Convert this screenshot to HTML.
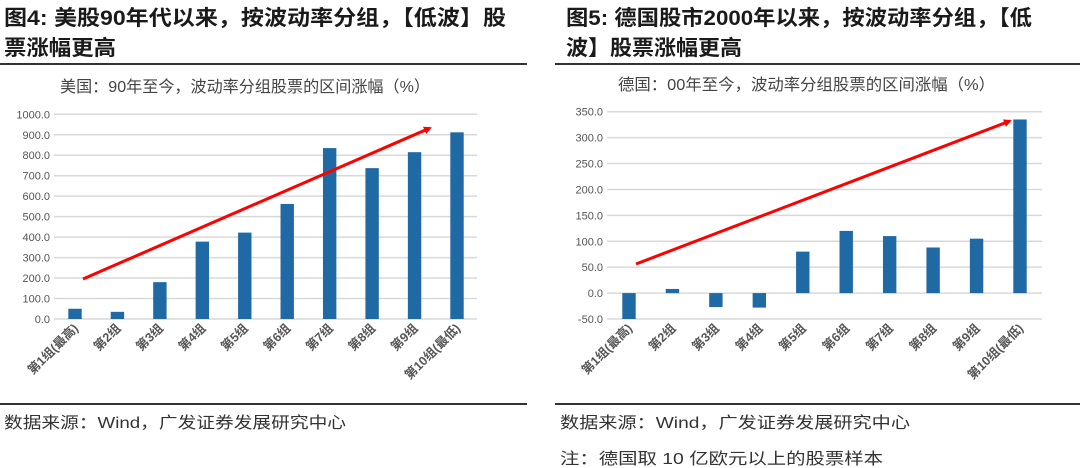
<!DOCTYPE html>
<html><head><meta charset="utf-8">
<style>
body{margin:0;width:1080px;height:468px;background:#fff;overflow:hidden;font-family:"Liberation Sans","Noto Sans CJK SC",sans-serif;}
svg{display:block}
</style></head>
<body>
<svg id="root" width="1080" height="468" viewBox="0 0 1080 468">
<defs>
<marker id="ah" markerWidth="8" markerHeight="8" refX="6" refY="4" orient="auto" markerUnits="userSpaceOnUse"><path d="M0,0 L8,4 L0,8 z" fill="#ff0000"/></marker>
</defs>
<g font-family="'Liberation Sans','Noto Sans CJK SC',sans-serif" font-weight="bold" font-size="21" fill="#1a1a1a">
<text x="4" y="25" textLength="502" lengthAdjust="spacingAndGlyphs">图4: 美股90年代以来，按波动率分组，【低波】股</text>
<text x="4" y="55" textLength="112" lengthAdjust="spacingAndGlyphs">票涨幅更高</text>
<text x="566" y="25" textLength="466" lengthAdjust="spacingAndGlyphs">图5: 德国股市2000年以来，按波动率分组，【低</text>
<text x="566" y="55" textLength="176" lengthAdjust="spacingAndGlyphs">波】股票涨幅更高</text>
</g>
<rect x="0" y="63" width="527" height="2" fill="#333"/>
<rect x="555" y="63" width="525" height="2" fill="#333"/>
<rect x="0" y="403" width="527" height="2" fill="#333"/>
<rect x="555" y="403" width="525" height="2" fill="#333"/>
<g font-family="'Liberation Sans','Noto Sans CJK SC',sans-serif" font-size="16" fill="#333">
<text x="4" y="428" textLength="342" lengthAdjust="spacingAndGlyphs">数据来源：Wind，广发证券发展研究中心</text>
<text x="560" y="428" textLength="350" lengthAdjust="spacingAndGlyphs">数据来源：Wind，广发证券发展研究中心</text>
<text x="560" y="464" textLength="323" lengthAdjust="spacingAndGlyphs">注：德国取 10 亿欧元以上的股票样本</text>
</g>
<g id="c1"></g>
<g id="c2"></g>
</svg>
<script>
const cats = ["第1组(最高)","第2组","第3组","第4组","第5组","第6组","第7组","第8组","第9组","第10组(最低)"];
const usValues = [50, 35, 180, 378, 422, 562, 835, 737, 815, 912];
const usTicks = [0,100,200,300,400,500,600,700,800,900,1000];
const deValues = [-50, 8, -27, -28, 80, 120, 110, 88, 105, 335];
const deTicks = [-50,0,50,100,150,200,250,300,350];
const NS = "http://www.w3.org/2000/svg";
function mk(tag, attrs, parent){const e=document.createElementNS(NS,tag);for(const k in attrs)e.setAttribute(k,attrs[k]);parent.appendChild(e);return e;}
function drawChart(g, cfg){
  const {values, ticks, x0, x1, yTop, yBot, vMin, vMax, first, last, title, titleX, arrow} = cfg;
  const y = v => yBot - (v - vMin) / (vMax - vMin) * (yBot - yTop);
  const step = (last - first) / (values.length - 1);
  const xc = i => first + i * step;
  const t = mk("text",{x:titleX,y:cfg.titleY,"font-size":"16","fill":"#444","textLength":cfg.titleLen,"lengthAdjust":"spacingAndGlyphs","font-family":"'Liberation Sans','Noto Sans CJK SC',sans-serif"},g);
  
  
  t.textContent = title;
  ticks.forEach(v=>{
    const l = mk("line",{x1:x0,x2:x1,y1:y(v),y2:y(v),stroke:"#d9d9d9","stroke-width":"1.5"},g);
    
    
    const tx = mk("text",{x:x0-4,y:y(v)+4,"text-anchor":"end","font-size":"11","fill":"#555"},g);
    
    
    tx.textContent = v.toFixed(1);
  });
  values.forEach((v,i)=>{
    const top = Math.min(y(v), y(0)), h = Math.abs(y(v)-y(0));
    const r = mk("rect",{x:xc(i)-6.7,y:top,width:13.4,height:h,fill:"#1f6aa5"},g);
    
    
    const lx = xc(i)+4, ly = yBot+10;
    const lt = mk("text",{x:lx,y:ly,"text-anchor":"end","font-size":"12.5","font-weight":"bold","fill":"#555",transform:`rotate(-45 ${lx} ${ly})`,"font-family":"'Liberation Sans','Noto Sans CJK SC',sans-serif"},g);
    
    
    lt.textContent = cats[i];
  });
  const a = mk("line",{x1:arrow[0],y1:arrow[1],x2:arrow[2],y2:arrow[3],stroke:"#ff0000","stroke-width":"3","marker-end":"url(#ah)"},g);
  
  
}
drawChart(document.getElementById('c1'),{values:usValues,ticks:usTicks,x0:54,x1:477,yTop:114.3,yBot:319,vMin:0,vMax:1000,first:75,last:457,title:"美国：90年至今，波动率分组股票的区间涨幅（%）",titleX:60,titleY:92,titleLen:370,arrow:[83,279,430,128]});
drawChart(document.getElementById('c2'),{values:deValues,ticks:deTicks,x0:607,x1:1042,yTop:111.7,yBot:319,vMin:-50,vMax:350,first:629,last:1020,title:"德国：00年至今，波动率分组股票的区间涨幅（%）",titleX:618,titleY:90,titleLen:377,arrow:[636,264,1010,121]});
</script>
</body></html>
